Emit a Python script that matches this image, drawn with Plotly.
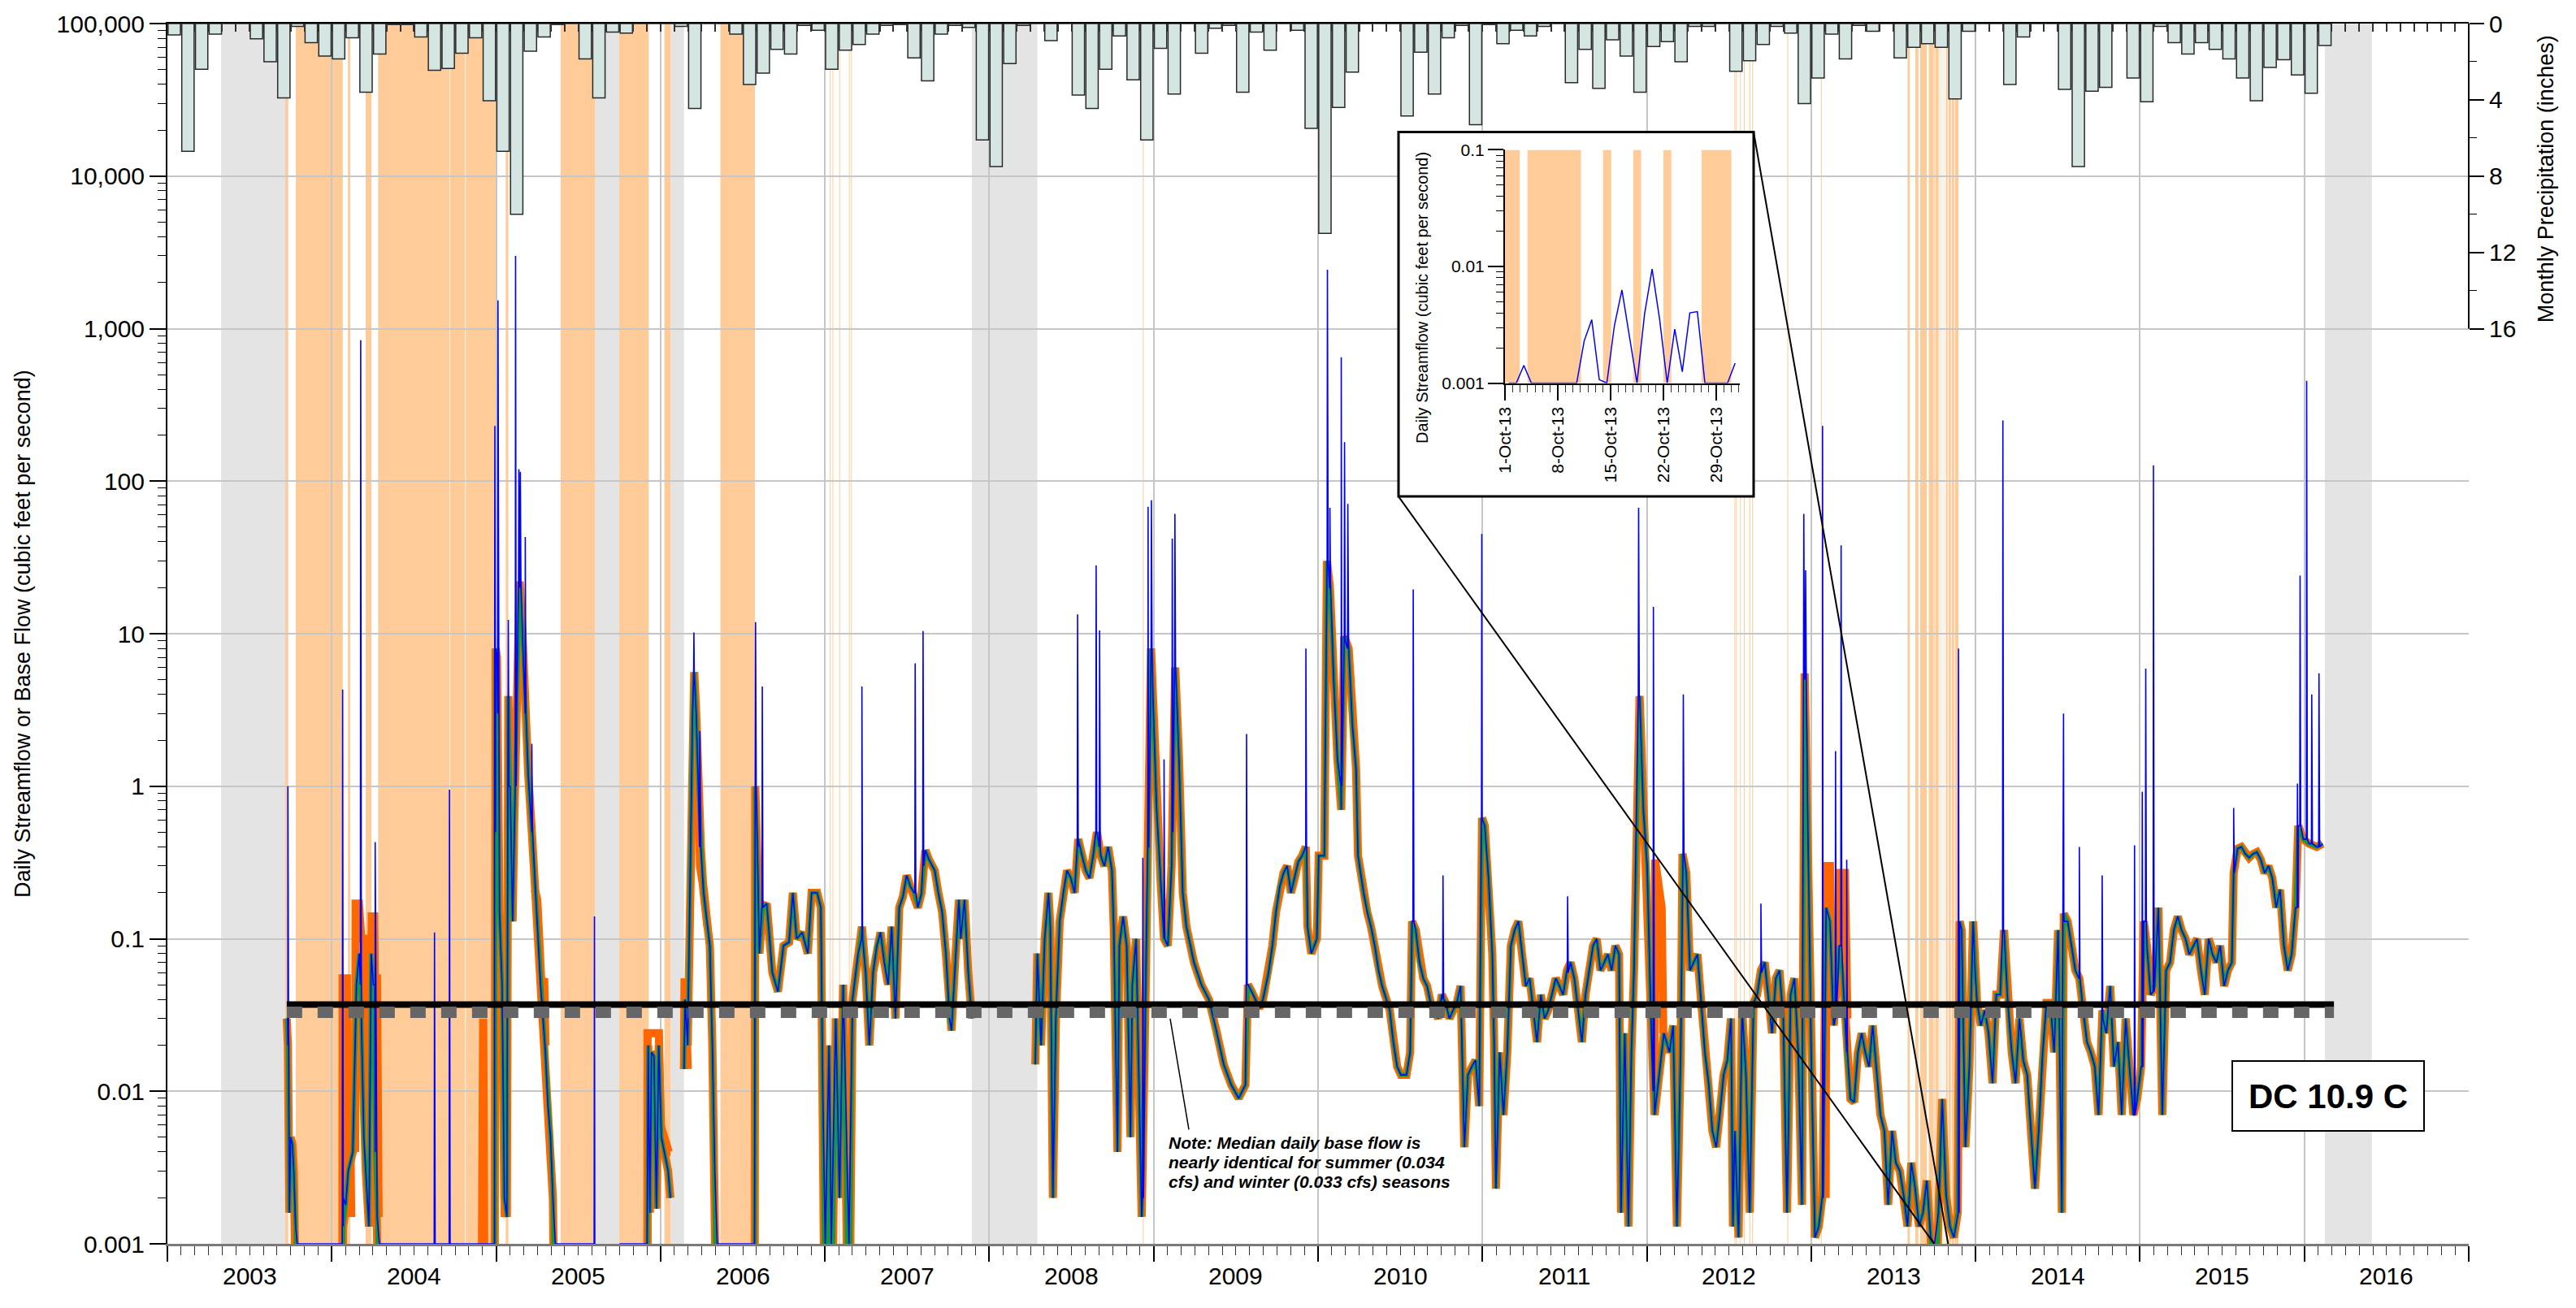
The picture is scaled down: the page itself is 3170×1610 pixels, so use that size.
import plotly.graph_objects as go

# ------------------------------------------------------------------ frame
FIG_W, FIG_H = 3170, 1610
M_L, M_R, M_T, M_B = 206, 132, 24, 79
PLOT_W = FIG_W - M_L - M_R
PLOT_H = FIG_H - M_T - M_B
T0, T1 = 2003, 2017
FONT = "Liberation Sans, Arial, sans-serif"


def paper_x(px):
    return (px - M_L) / PLOT_W


def paper_y(py):
    return 1 - (py - M_T) / PLOT_H


def year_to_paper(t):
    return (t - T0) / (T1 - T0)


# ------------------------------------------------------------------ data
years = list(range(2003, 2017))
year_labels = [str(y) for y in years]

flow_ticks = [0.001, 0.01, 0.1, 1, 10, 100, 1000, 10000, 100000]
flow_tick_text = ["0.001", "0.01", "0.1", "1", "10", "100", "1,000", "10,000", "100,000"]
precip_ticks = [0, 4, 8, 12, 16]

# Monthly precipitation (inches), January 2003 onward
precip_start_year = 2003
precip_in = [
    0.6, 6.7, 2.4, 0.55, 0, 0, 0.8, 2.0, 3.9, 0.15, 1.0, 1.7,
    1.85, 0.75, 3.6, 1.6, 0.05, 0.05, 0.7, 2.45, 2.35, 1.55, 0.75, 4.05,
    6.7, 10.0, 1.45, 0.7, 0.05, 0, 1.85, 3.9, 0.45, 0.5, 0, 0,
    0, 0.15, 4.45, 0, 0, 0.55, 3.2, 2.6, 1.35, 1.6, 0.1, 0.35,
    2.4, 1.4, 1.1, 0.55, 0.1, 0.05, 1.8, 3.0, 0.55, 0.1, 0.2, 6.1,
    7.5, 2.1, 0.1, 0, 0.9, 0, 3.75, 4.45, 2.4, 0.65, 2.95, 6.1,
    1.3, 3.7, 0, 1.55, 0.25, 0.1, 3.6, 0.45, 1.4, 0, 0.35, 5.5,
    11.0, 4.4, 2.55, 0, 0, 0, 4.85, 1.5, 3.7, 0.75, 0.1, 5.3,
    0.05, 1.05, 0.35, 0.65, 0.15, 0, 3.1, 1.35, 3.4, 0.85, 1.7, 3.6,
    1.2, 0.95, 2.0, 0.15, 0.15, 0, 2.5, 1.95, 1.1, 0.15, 0.5, 4.2,
    2.85, 0.55, 1.85, 0.1, 0.4, 0, 1.8, 1.25, 1.05, 1.25, 3.95, 0.4,
    0, 0, 3.2, 0.7, 0, 0, 3.45, 7.5, 3.55, 3.35, 0, 2.85,
    4.1, 0.15, 1.0, 1.6, 1.0, 1.35, 1.85, 2.85, 4.05, 2.3, 1.9, 2.7,
    3.65, 1.15,
]

# Daily base flow (decimal year, cfs); 0 = no flow
seg1_t = [2003.726, 2003.733, 2003.742, 2003.750, 2003.760, 2003.769, 2003.780, 2003.790,
          2004.064, 2004.070, 2004.085, 2004.100, 2004.128, 2004.150, 2004.167, 2004.180,
          2004.195, 2004.207, 2004.226, 2004.240, 2004.253, 2004.264, 2004.276, 2004.290,
          2004.990, 2004.997, 2005.005, 2005.020, 2005.036, 2005.050, 2005.065, 2005.074,
          2005.085, 2005.100, 2005.110, 2005.125, 2005.143, 2005.160, 2005.177, 2005.195,
          2005.217, 2005.240, 2005.255, 2005.270, 2005.285, 2005.300, 2005.315, 2005.331,
          2005.345, 2005.360, 2005.600]
seg1_q = [0.03, 0.02, 0.0016, 0.005, 0.0045, 0.003, 0.0013, 0,
          0, 0.0013, 0.0018, 0.003, 0.004, 0.05, 0.08, 0.03,
          0.005, 0.003, 0.0013, 0.08, 0.05, 0.004, 0.0015, 0,
          0, 8.0, 7.0, 0.15, 0.05, 0.002, 0.0015, 3.9,
          1.0, 0.13, 0.6, 3.0, 22.0, 10.0, 3.0, 1.2,
          0.5, 0.2, 0.1, 0.05, 0.03, 0.018, 0.008, 0.005,
          0.002, 0, 0]

seg2_t = [2005.750, 2005.918, 2005.925, 2005.935, 2005.945, 2005.960, 2005.975, 2005.989,
          2006.005, 2006.023, 2006.046, 2006.060]
seg2_q = [0, 0, 0.02, 0.0016, 0.018, 0.017, 0.0017, 0.02,
          0.005, 0.004, 0.003, 0.002]

seg3_t = [2006.143, 2006.150, 2006.165, 2006.182, 2006.195, 2006.205, 2006.217, 2006.230,
          2006.245, 2006.262, 2006.285, 2006.300, 2006.315, 2006.330, 2006.345, 2006.572,
          2006.576, 2006.590, 2006.601, 2006.623, 2006.646, 2006.680, 2006.714, 2006.748,
          2006.782, 2006.805, 2006.828, 2006.862, 2006.896, 2006.919, 2006.953, 2006.975,
          2006.987, 2007.002, 2007.025, 2007.039, 2007.066, 2007.089, 2007.111, 2007.146,
          2007.168, 2007.202, 2007.225, 2007.248, 2007.270, 2007.293, 2007.316, 2007.338,
          2007.361, 2007.384, 2007.406, 2007.429, 2007.452, 2007.475, 2007.497, 2007.520,
          2007.543, 2007.565, 2007.588, 2007.611, 2007.633, 2007.668, 2007.690, 2007.713,
          2007.736, 2007.758, 2007.770, 2007.792, 2007.815, 2007.826, 2007.849, 2007.872,
          2007.894]
seg3_q = [0.014, 0.04, 0.02, 0.5, 3.0, 5.6, 3.0, 1.0,
          0.4, 0.2, 0.12, 0.09, 0.02, 0.003, 0, 0,
          1.0, 0.3, 0.08, 0.16, 0.17, 0.06, 0.045, 0.09,
          0.095, 0.2, 0.1, 0.11, 0.08, 0.2, 0.2, 0.16,
          0.01, 0, 0.02, 0, 0.03, 0.002, 0.05, 0,
          0.04, 0.08, 0.12, 0.06, 0.02, 0.06, 0.09, 0.11,
          0.07, 0.05, 0.12, 0.03, 0.16, 0.19, 0.26, 0.22,
          0.2, 0.16, 0.2, 0.38, 0.33, 0.28, 0.2, 0.15,
          0.08, 0.03, 0.025, 0.07, 0.18, 0.1, 0.18, 0.06,
          0.03]

seg4_t = [2008.280, 2008.292, 2008.315, 2008.337, 2008.360, 2008.371, 2008.387, 2008.405,
          2008.428, 2008.450, 2008.473, 2008.496, 2008.519, 2008.541, 2008.564, 2008.587,
          2008.609, 2008.632, 2008.655, 2008.678, 2008.700, 2008.723, 2008.746, 2008.757,
          2008.780, 2008.791, 2008.814, 2008.836, 2008.859, 2008.870, 2008.893, 2008.905,
          2008.927, 2008.950, 2008.968, 2008.984, 2008.995, 2009.018, 2009.041, 2009.063,
          2009.086, 2009.109, 2009.131, 2009.154, 2009.177, 2009.199, 2009.245, 2009.290,
          2009.336, 2009.381, 2009.426, 2009.472, 2009.517, 2009.558, 2009.574, 2009.597,
          2009.619, 2009.642, 2009.665, 2009.699, 2009.722, 2009.744, 2009.767, 2009.790,
          2009.812, 2009.835, 2009.858, 2009.880, 2009.903, 2009.925, 2009.936, 2009.959,
          2009.993, 2010.004, 2010.038, 2010.054, 2010.072, 2010.095, 2010.118, 2010.141,
          2010.159, 2010.186, 2010.209, 2010.231, 2010.243, 2010.277, 2010.299, 2010.322,
          2010.345, 2010.368, 2010.390, 2010.436, 2010.458, 2010.481, 2010.504, 2010.538,
          2010.560, 2010.572, 2010.594, 2010.617, 2010.640, 2010.663, 2010.685, 2010.708,
          2010.731, 2010.753, 2010.776, 2010.799, 2010.821, 2010.844, 2010.867, 2010.890,
          2010.912, 2010.935, 2010.958, 2010.980, 2010.998, 2011.014, 2011.037, 2011.060,
          2011.071, 2011.082, 2011.105, 2011.128, 2011.151, 2011.173, 2011.196, 2011.219,
          2011.241, 2011.264, 2011.287, 2011.309, 2011.332, 2011.355, 2011.378, 2011.400,
          2011.423, 2011.446, 2011.468, 2011.491, 2011.514, 2011.536, 2011.559, 2011.582,
          2011.605, 2011.627, 2011.650, 2011.673, 2011.695, 2011.718, 2011.741, 2011.763,
          2011.786, 2011.809, 2011.831, 2011.843, 2011.866, 2011.888, 2011.906, 2011.922,
          2011.956, 2011.979, 2012.002, 2012.024, 2012.047, 2012.104, 2012.138, 2012.160,
          2012.183, 2012.206, 2012.217, 2012.240, 2012.263, 2012.285, 2012.308, 2012.331,
          2012.353, 2012.376, 2012.399, 2012.422, 2012.444, 2012.467, 2012.490, 2012.512,
          2012.524, 2012.535, 2012.558, 2012.580, 2012.603, 2012.626, 2012.649, 2012.671,
          2012.694, 2012.717, 2012.739, 2012.762, 2012.785, 2012.807, 2012.830, 2012.853,
          2012.875, 2012.898, 2012.921, 2012.944, 2012.960, 2012.978, 2013.000, 2013.023,
          2013.046, 2013.069, 2013.091, 2013.114, 2013.137, 2013.171, 2013.193, 2013.216,
          2013.239, 2013.261, 2013.284, 2013.307, 2013.329, 2013.352, 2013.374, 2013.398,
          2013.421, 2013.445, 2013.468, 2013.492, 2013.515, 2013.539, 2013.562, 2013.586,
          2013.609, 2013.633, 2013.656, 2013.680, 2013.703, 2013.727, 2013.750, 2013.774,
          2013.797, 2013.821, 2013.844, 2013.868, 2013.891, 2013.903, 2013.915, 2013.938,
          2013.962, 2013.985, 2013.997, 2014.009, 2014.032, 2014.056, 2014.079, 2014.103,
          2014.126, 2014.150, 2014.173, 2014.196, 2014.220, 2014.243, 2014.267, 2014.290,
          2014.314, 2014.337, 2014.361, 2014.384, 2014.408, 2014.431, 2014.455, 2014.478,
          2014.502, 2014.525, 2014.537, 2014.560, 2014.584, 2014.607, 2014.631, 2014.654,
          2014.678, 2014.701, 2014.725, 2014.748, 2014.772, 2014.795, 2014.819, 2014.842,
          2014.866, 2014.889, 2014.913, 2014.936, 2014.960, 2014.983, 2015.007, 2015.023,
          2015.042, 2015.065, 2015.089, 2015.112, 2015.136, 2015.159, 2015.183, 2015.206,
          2015.230, 2015.253, 2015.277, 2015.300, 2015.324, 2015.347, 2015.371, 2015.394,
          2015.418, 2015.441, 2015.465, 2015.488, 2015.512, 2015.535, 2015.559, 2015.570,
          2015.594, 2015.617, 2015.641, 2015.664, 2015.688, 2015.711, 2015.735, 2015.758,
          2015.782, 2015.805, 2015.829, 2015.852, 2015.876, 2015.899, 2015.923, 2015.946,
          2015.963, 2015.993, 2016.028, 2016.075, 2016.111]
seg4_q = [0.015, 0.08, 0.02, 0.1, 0.2, 0.12, 0.002, 0.03,
          0.13, 0.2, 0.28, 0.25, 0.2, 0.45, 0.35, 0.28,
          0.25, 0.35, 0.5, 0.35, 0.3, 0.4, 0.28, 0.12,
          0.004, 0.09, 0.14, 0.09, 0.005, 0.05, 0.1, 0.02,
          0.0015, 0.04, 0.4, 8.0, 4.0, 0.7, 0.25, 0.1,
          0.09, 0.3, 6.0, 1.5, 0.2, 0.12, 0.07, 0.05,
          0.04, 0.025, 0.015, 0.011, 0.009, 0.011, 0.05, 0.045,
          0.04, 0.035, 0.04, 0.06, 0.09, 0.15, 0.22, 0.27,
          0.3, 0.2, 0.25, 0.32, 0.35, 0.4, 0.12, 0.08,
          0.1, 0.35, 0.35, 30, 20, 5, 1.5, 0.7,
          9.6, 8, 2.5, 1.3, 0.35, 0.2, 0.15, 0.12,
          0.09, 0.062, 0.049, 0.034, 0.021, 0.0145, 0.0128, 0.0128,
          0.018, 0.13, 0.114, 0.07, 0.055, 0.049, 0.038, 0.034,
          0.03, 0.043, 0.038, 0.03, 0.034, 0.038, 0.049, 0.0043,
          0.0128, 0.0145, 0.016, 0.008, 0.62, 0.55, 0.25, 0.079,
          0.021, 0.0023, 0.018, 0.007, 0.018, 0.09, 0.114, 0.13,
          0.079, 0.049, 0.055, 0.034, 0.021, 0.043, 0.03, 0.034,
          0.043, 0.055, 0.049, 0.043, 0.062, 0.07, 0.055, 0.034,
          0.021, 0.043, 0.062, 0.09, 0.1, 0.062, 0.07, 0.079,
          0.062, 0.09, 0.079, 0.0016, 0.024, 0.0013, 0.018, 0.062,
          3.9, 0.7, 0.3, 0.034, 0.007, 0.024, 0.018, 0.027,
          0.0013, 0.018, 0.36, 0.27, 0.062, 0.07, 0.079, 0.038,
          0.018, 0.0113, 0.0055, 0.0043, 0.007, 0.0128, 0.016, 0.03,
          0.0013, 0.0055, 0.0011, 0.034, 0.0128, 0.0016, 0.038, 0.043,
          0.062, 0.07, 0.043, 0.024, 0.055, 0.062, 0.03, 0.0016,
          0.043, 0.055, 0.018, 0.0018, 5.5, 0.7, 0.018, 0.0011,
          0.0013, 0.0021, 0.16, 0.13, 0.027, 0.09, 0.055, 0.018,
          0.0089, 0.0085, 0.018, 0.024, 0.018, 0.0145, 0.027, 0.0128,
          0.007, 0.0055, 0.0018, 0.0055, 0.0034, 0.003, 0.0021, 0.0013,
          0.0034, 0.0023, 0.0013, 0.0016, 0.0026, 0.0011, 0, 0.0016,
          0.0089, 0.0021, 0.0013, 0.0011, 0.0016, 0.13, 0.114, 0.0043,
          0.0145, 0.13, 0.062, 0.038, 0.027, 0.034, 0.024, 0.0113,
          0.043, 0.043, 0.114, 0.038, 0.018, 0.0113, 0.03, 0.016,
          0.0128, 0.0055, 0.0023, 0.0055, 0.018, 0.038, 0.038, 0.018,
          0.114, 0.0016, 0.146, 0.13, 0.09, 0.062, 0.055, 0.034,
          0.021, 0.018, 0.0145, 0.007, 0.034, 0.024, 0.049, 0.0145,
          0.021, 0.007, 0.03, 0.0145, 0.007, 0.0089, 0.0145, 0.13,
          0.09, 0.043, 0.049, 0.16, 0.007, 0.062, 0.07, 0.114,
          0.14, 0.114, 0.1, 0.079, 0.09, 0.1, 0.062, 0.043,
          0.1, 0.079, 0.07, 0.09, 0.049, 0.062, 0.07, 0.27,
          0.39, 0.4, 0.36, 0.34, 0.36, 0.37, 0.33, 0.27,
          0.3, 0.25, 0.16, 0.21, 0.09, 0.062, 0.079, 0.16,
          0.55, 0.45, 0.42, 0.4, 0.42]

# Alternate base-flow separation where it departs from the main curve
alt_base_segments = [
    ([2004.064, 2004.066, 2004.092, 2004.095, 2004.103, 2004.112, 2004.118],
     [0, 0.055, 0.055, 0.002, 0.011, 0.007, 0.0015]),
    ([2004.142, 2004.145, 2004.165, 2004.180, 2004.200, 2004.210],
     [0.004, 0.17, 0.17, 0.1, 0.1, 0.003]),
    ([2004.238, 2004.243, 2004.258, 2004.262, 2004.275, 2004.285],
     [0.004, 0.14, 0.14, 0.055, 0.055, 0.0015]),
    ([2004.909, 2004.913, 2004.917, 2004.921, 2004.925, 2004.930],
     [0, 0.03, 0.005, 0.03, 0.005, 0]),
    ([2005.018, 2005.022, 2005.045, 2005.052], [0.15, 0.09, 0.08, 0.0015]),
    ([2005.235, 2005.250, 2005.262, 2005.275, 2005.292, 2005.300],
     [0.21, 0.18, 0.1, 0.05, 0.055, 0.02]),
    ([2005.919, 2005.921, 2005.990, 2006.000, 2006.050, 2006.060],
     [0, 0.024, 0.024, 0.006, 0.004, 0.004]),
    ([2006.143, 2006.146, 2006.155, 2006.165], [0.014, 0.055, 0.04, 0.014]),
    ([2006.230, 2006.240, 2006.265, 2006.285], [1.0, 0.3, 0.2, 0.12]),
    ([2012.045, 2012.050, 2012.090, 2012.100], [0.01, 0.33, 0.16, 0.024]),
    ([2013.088, 2013.091, 2013.114, 2013.130], [0.002, 0.3, 0.3, 0.03]),
    ([2013.168, 2013.171, 2013.205, 2013.220], [0.09, 0.27, 0.27, 0.03]),
]

# Storm peaks in daily streamflow: date, peak (cfs), flow either side (cfs)
peak_t = [2003.733, 2004.066, 2004.176, 2004.264, 2004.625, 2004.716, 2004.992, 2005.011,
          2005.074, 2005.118, 2005.138, 2005.147, 2005.177, 2005.217, 2005.598, 2006.203,
          2006.239, 2006.578, 2006.619, 2007.225, 2007.549, 2007.597, 2008.537, 2008.650,
          2008.671, 2008.934, 2008.966, 2008.986, 2009.063, 2009.113, 2009.129, 2009.565,
          2009.926, 2010.057, 2010.072, 2010.141, 2010.161, 2010.181, 2010.579, 2010.760,
          2010.996, 2011.518, 2011.950, 2012.040, 2012.222, 2012.694, 2012.955, 2012.966,
          2013.069, 2013.148, 2013.182, 2013.216, 2013.896, 2014.166, 2014.535, 2014.631,
          2014.770, 2014.967, 2015.014, 2015.035, 2015.082, 2015.570, 2015.958, 2015.974,
          2016.014, 2016.045, 2016.089]
peak_q = [1.0, 4.3, 840, 0.43, 0.11, 0.95, 230, 1530,
          12.3, 3000, 120, 115, 43, 1.9, 0.14, 10.2,
          2.3, 11.9, 4.5, 4.5, 6.4, 10.4, 13.4, 28,
          10.5, 0.34, 68, 75, 1.5, 42, 61, 2.2,
          8, 2430, 67, 650, 180, 71, 19.5, 0.26,
          45, 0.19, 67, 15, 4.0, 0.17, 61, 26,
          230, 1.7, 38, 0.33, 8, 250, 3.0, 0.4,
          0.26, 0.41, 0.92, 5.9, 127, 0.72, 1.04, 24,
          455, 4.0, 5.5]
peak_side = [0.03, 0.002, 0.05, 0.05, 0, 0, 0.5, 3.0,
             1.0, 1.0, 20, 20, 3, 0.5, 0, 5,
             0.4, 1.0, 0.16, 0.1, 0.2, 0.3, 0.4, 0.5,
             0.4, 0.002, 0.4, 8, 0.1, 0.5, 6, 0.05,
             0.4, 30, 20, 1, 9, 8, 0.13, 0.04,
             0.6, 0.06, 3.9, 0.01, 0.36, 0.06, 5, 5,
             0.002, 0.03, 0.09, 0.018, 0.0016, 0.11, 0.13, 0.055,
             0.03, 0.007, 0.0145, 0.13, 0.045, 0.27, 0.16, 0.55,
             0.45, 0.42, 0.4]

median_base_all = 0.037       # cfs
median_base_seasonal = 0.033  # cfs
median_span = (2003.726, 2016.18)

no_record_periods = [(2003.327, 2003.720), (2005.603, 2005.748), (2006.062, 2006.143),
                     (2007.894, 2008.292), (2016.125, 2016.411)]
zero_flow_periods = [
    (2003.717, 2003.735), (2003.781, 2004.067), (2004.098, 2004.112), (2004.206, 2004.241),
    (2004.282, 2004.716), (2004.720, 2004.811), (2004.815, 2004.997), (2005.058, 2005.074),
    (2005.392, 2005.603), (2005.748, 2005.928), (2006.023, 2006.062), (2006.364, 2006.574),
    (2007.030, 2007.035), (2007.046, 2007.051), (2007.087, 2007.092), (2007.146, 2007.151),
    (2007.159, 2007.164), (2008.934, 2008.939),
    (2012.533, 2012.538), (2012.543, 2012.548), (2012.567, 2012.572), (2012.590, 2012.595),
    (2012.624, 2012.629), (2012.641, 2012.646), (2012.855, 2012.860), (2013.059, 2013.064),
    (2013.586, 2013.600), (2013.633, 2013.652), (2013.663, 2013.703), (2013.715, 2013.745),
    (2013.748, 2013.7534), (2013.7562, 2013.7757), (2013.7836, 2013.7866),
    (2013.7945, 2013.7974), (2013.8054, 2013.8084), (2013.8194, 2013.8302),
    (2013.836, 2013.850), (2013.855, 2013.870), (2013.875, 2013.896),
]

# October 2013 detail
inset_day = list(range(1, 32))
inset_q = [0.001, 0.001, 0.00142, 0.001, 0.001, 0.001, 0.001, 0.001, 0.001, 0.001,
           0.0023, 0.0035, 0.00107, 0.001, 0.0031, 0.0063, 0.0025, 0.001, 0.0039, 0.0095,
           0.0035, 0.001, 0.0029, 0.00125, 0.0040, 0.0041, 0.001, 0.001, 0.001, 0.001,
           0.00148]
inset_zero_flow = [("2013-10-01 00:00", "2013-10-02 23:00"),
                   ("2013-10-03 23:30", "2013-10-11 02:00"),
                   ("2013-10-14 00:00", "2013-10-15 02:00"),
                   ("2013-10-18 00:00", "2013-10-19 01:00"),
                   ("2013-10-22 00:00", "2013-10-23 01:00"),
                   ("2013-10-27 01:30", "2013-10-31 00:00")]
inset_tick_days = [1, 8, 15, 22, 29]
inset_range = ("2013-10-01 00:00", "2013-11-01 03:00")
inset_span_years = (2013.748, 2013.833)

note_lines = ["Note: Median daily base flow is",
              "nearly identical for summer (0.034",
              "cfs) and winter (0.033 cfs) seasons"]

# ------------------------------------------------------------------ colours
BLUE = "#0000ff"
GREEN = "#109a3c"
ORANGE = "#ff6600"
PEACH = "#ffcc99"
NODATA = "#e4e4e4"
GRID = "#c6c6c6"
BAR_FILL = "#d5e6e2"

FLOOR = 0.001   # zero streamflow sits on the axis floor
BELOW = 1e-4    # zero base flow falls off the bottom of the axis

segments = [(seg1_t, seg1_q), (seg2_t, seg2_q), (seg3_t, seg3_q), (seg4_t, seg4_q)]


def base_curve():
    xs, ys = [], []
    for t, q in segments:
        xs += list(t) + [None]
        ys += [v if v > 0 else BELOW for v in q] + [None]
    return xs, ys


def streamflow_curve():
    xs, ys = [], []
    for t, q in segments:
        pts = [(a, v if v > 0 else FLOOR) for a, v in zip(t, q)]
        for pt, pq, ps in zip(peak_t, peak_q, peak_side):
            if t[0] <= pt <= t[-1]:
                s = ps if ps > 0 else FLOOR
                pts += [(pt - 0.002, s), (pt, pq), (pt + 0.004, s)]
        pts.sort()
        xs += [p[0] for p in pts] + [None]
        ys += [p[1] for p in pts] + [None]
    return xs, ys


def alt_curve():
    xs, ys = [], []
    for t, q in alt_base_segments:
        xs += list(t) + [None]
        ys += [v if v > 0 else BELOW for v in q] + [None]
    return xs, ys


fig = go.Figure()

# precipitation bars hanging from the top axis
precip_x = [precip_start_year + (i + 0.5) / 12 for i in range(len(precip_in))]
fig.add_trace(go.Bar(
    x=precip_x, y=precip_in, base=0, width=0.9 / 12,
    marker=dict(color=BAR_FILL, line=dict(color="#2a2a2a", width=1.5)),
    xaxis="x2", yaxis="y2", hoverinfo="skip"))

bx, by = base_curve()
ax_, ay_ = alt_curve()
sx, sy = streamflow_curve()

fig.add_trace(go.Scatter(x=ax_, y=ay_, mode="lines", line=dict(color=ORANGE, width=10),
                         hoverinfo="skip"))
fig.add_trace(go.Scatter(x=bx, y=by, mode="lines", line=dict(color=ORANGE, width=10),
                         hoverinfo="skip"))
fig.add_trace(go.Scatter(x=bx, y=by, mode="lines", line=dict(color=GREEN, width=5),
                         hoverinfo="skip"))
fig.add_trace(go.Scatter(x=sx, y=sy, mode="lines", line=dict(color=BLUE, width=1.6),
                         hoverinfo="skip"))

# median base-flow lines
fig.add_trace(go.Scatter(x=list(median_span), y=[median_base_all] * 2, mode="lines",
                         line=dict(color="black", width=8), hoverinfo="skip"))
fig.add_trace(go.Scatter(x=list(median_span), y=[median_base_seasonal] * 2, mode="lines",
                         line=dict(color="#666666", width=14, dash="19px,19px"),
                         hoverinfo="skip"))

# white backing card for the October 2013 detail
fig.add_trace(go.Scatter(x=[0, 1, 1, 0, 0], y=[0, 0, 1, 1, 0], mode="lines", fill="toself",
                         fillcolor="white", line=dict(width=0), xaxis="x3", yaxis="y3",
                         hoverinfo="skip"))

# October 2013 detail: zero-flow days and daily streamflow
zx, zy = [], []
for a, b in inset_zero_flow:
    zx += [a, b, b, a, a, None]
    zy += [0.001, 0.001, 0.1, 0.1, 0.001, None]
fig.add_trace(go.Scatter(x=zx, y=zy, mode="lines", fill="toself", fillcolor=PEACH,
                         line=dict(width=0), xaxis="x4", yaxis="y4", hoverinfo="skip"))
inset_t = [f"2013-10-{d:02d} 12:00" for d in inset_day]
fig.add_trace(go.Scatter(x=inset_t, y=inset_q, mode="lines", line=dict(color=BLUE, width=1.5),
                         xaxis="x4", yaxis="y4", hoverinfo="skip"))

# ------------------------------------------------------------------ shapes
shapes = []
for a, b in no_record_periods:
    shapes.append(dict(type="rect", xref="x", yref="paper", x0=a, x1=b, y0=0, y1=1,
                       fillcolor=NODATA, line=dict(width=0), layer="below"))
for a, b in zero_flow_periods:
    shapes.append(dict(type="rect", xref="x", yref="paper", x0=a, x1=b, y0=0, y1=1,
                       fillcolor=PEACH, line=dict(width=0), layer="below"))

box = dict(x0=paper_x(1721), x1=paper_x(2158), y0=paper_y(608), y1=paper_y(158))
shapes.append(dict(type="rect", xref="paper", yref="paper", **box,
                   line=dict(color="black", width=3), fillcolor="rgba(0,0,0,0)", layer="above"))
shapes.append(dict(type="line", xref="paper", yref="paper", x0=box["x0"], y0=box["y0"],
                   x1=year_to_paper(inset_span_years[0]), y1=0,
                   line=dict(color="black", width=2), layer="above"))
shapes.append(dict(type="line", xref="paper", yref="paper", x0=box["x1"], y0=box["y1"],
                   x1=year_to_paper(inset_span_years[1]), y1=0,
                   line=dict(color="black", width=2), layer="above"))
# right axis spine covers the 0-16 inch span only
shapes.append(dict(type="line", xref="paper", yref="paper", x0=1, x1=1, y0=0.75, y1=1,
                   line=dict(color="black", width=2), layer="above"))
# note leader
shapes.append(dict(type="line", xref="paper", yref="paper", x0=paper_x(1440), y0=paper_y(1253),
                   x1=paper_x(1463), y1=paper_y(1390), line=dict(color="black", width=1.5),
                   layer="above"))

# ------------------------------------------------------------------ annotations
annotations = []
for y, lab in zip(years, year_labels):
    annotations.append(dict(x=y + 0.5, y=0, xref="x", yref="paper", text=lab, showarrow=False,
                            xanchor="center", yanchor="top", yshift=-21,
                            font=dict(size=30, color="black")))
annotations.append(dict(x=paper_x(28), y=0.5, xref="paper", yref="paper", textangle=-90,
                        xanchor="center", yanchor="middle",
                        text="Daily Streamflow or Base Flow (cubic feet per second)",
                        showarrow=False, font=dict(size=27, color="black")))
annotations.append(dict(x=paper_x(3133), y=paper_y(216), xref="paper", yref="paper",
                        textangle=-90, xanchor="center", yanchor="middle",
                        text="Monthly Precipitation (inches)",
                        showarrow=False, font=dict(size=27, color="black")))
annotations.append(dict(x=paper_x(1750), y=paper_y(363), xref="paper", yref="paper",
                        textangle=-90, xanchor="center", yanchor="middle",
                        text="Daily Streamflow (cubic feet per second)",
                        showarrow=False, font=dict(size=20, color="black")))
for i, line in enumerate(note_lines):
    annotations.append(dict(x=paper_x(1436), y=paper_y(1406 + 24 * i), xref="paper",
                            yref="paper", xanchor="left", yanchor="middle", showarrow=False,
                            text=f"<b><i>{line}</i></b>", font=dict(size=21, color="black")))
annotations.append(dict(x=paper_x(2864.5), y=paper_y(1348), xref="paper", yref="paper",
                        xanchor="center", yanchor="middle",
                        text="<b>DC 10.9 C</b>", showarrow=False, width=230, height=80,
                        bgcolor="white", bordercolor="black", borderwidth=2, borderpad=2,
                        font=dict(size=42, color="black")))

# ------------------------------------------------------------------ axes
month_ticks = [y + m / 12 for y in range(T0, T1) for m in range(12)] + [T1]
minor_log = [k * 10.0 ** e for e in range(-3, 5) for k in range(2, 10)]
inset_minor_log = [k * 10.0 ** e for e in (-3, -2) for k in range(2, 10)]

fig.update_layout(
    width=FIG_W, height=FIG_H,
    margin=dict(l=M_L, r=M_R, t=M_T, b=M_B),
    paper_bgcolor="white", plot_bgcolor="white",
    showlegend=False, barmode="overlay",
    font=dict(family=FONT, color="black"),
    shapes=shapes, annotations=annotations,
    xaxis=dict(range=[T0, T1], tickmode="array", tickvals=list(range(T0, T1 + 1)),
               showticklabels=False, ticks="outside", ticklen=19, tickwidth=1.5,
               tickcolor="black", showgrid=True, gridcolor=GRID, gridwidth=1.5,
               showline=True, linecolor="#7a7a7a", linewidth=2.5, zeroline=False,
               minor=dict(tickmode="array", tickvals=month_ticks, ticks="outside",
                          ticklen=11, tickwidth=1.2, tickcolor="#333333", showgrid=False)),
    yaxis=dict(type="log", range=[-3, 5], tickmode="array", tickvals=flow_ticks,
               ticktext=flow_tick_text, ticks="outside", ticklen=20, tickwidth=1.5,
               tickcolor="black", tickfont=dict(size=30), showgrid=True, gridcolor=GRID,
               gridwidth=1.5, showline=True, linecolor="black", linewidth=2, zeroline=False,
               minor=dict(tickmode="array", tickvals=minor_log, ticks="outside", ticklen=10,
                          tickwidth=1.2, tickcolor="black", showgrid=False)),
    xaxis2=dict(overlaying="x", side="top", anchor="y2", range=[T0, T1], tickmode="array",
                tickvals=month_ticks, ticks="inside", ticklen=10, tickwidth=1.5,
                tickcolor="#333333", showticklabels=False, showgrid=False, showline=True,
                linecolor="black", linewidth=2, zeroline=False),
    yaxis2=dict(overlaying="y", side="right", anchor="x2", range=[64, 0], tickmode="array",
                tickvals=precip_ticks, ticks="outside", ticklen=18, tickwidth=1.5,
                tickcolor="black", tickfont=dict(size=30), showgrid=False, showline=False,
                zeroline=False,
                minor=dict(tickmode="array", tickvals=[2, 6, 10, 14], ticks="outside",
                           ticklen=9, tickwidth=1.2, tickcolor="black", showgrid=False)),
    xaxis3=dict(domain=[paper_x(1721), paper_x(2158)], range=[0, 1], anchor="y3",
                visible=False, fixedrange=True),
    yaxis3=dict(domain=[paper_y(608), paper_y(158)], range=[0, 1], anchor="x3",
                visible=False, fixedrange=True),
    xaxis4=dict(domain=[paper_x(1852), paper_x(2141)], type="date", anchor="y4",
                range=list(inset_range), tickmode="array",
                tickvals=[f"2013-10-{d:02d}" for d in inset_tick_days],
                ticktext=[f"{d}-Oct-13" for d in inset_tick_days], tickangle=-90,
                ticks="outside", ticklen=19, tickwidth=1.5, tickcolor="black",
                tickfont=dict(size=21), showgrid=False, showline=True, linecolor="black",
                linewidth=2, zeroline=False,
                minor=dict(tickmode="array",
                           tickvals=[f"2013-10-{d:02d}" for d in inset_day] + ["2013-11-01"],
                           ticks="outside", ticklen=9, tickwidth=1.2, tickcolor="#333333",
                           showgrid=False)),
    yaxis4=dict(domain=[paper_y(468), paper_y(180)], type="log", range=[-3, -1], anchor="x4",
                tickmode="array", tickvals=[0.001, 0.01, 0.1], ticktext=["0.001", "0.01", "0.1"],
                ticks="outside", ticklen=19, tickwidth=1.5, tickcolor="black",
                tickfont=dict(size=21), showgrid=False, showline=True, linecolor="black",
                linewidth=2, zeroline=False,
                minor=dict(tickmode="array", tickvals=inset_minor_log, ticks="outside",
                           ticklen=9, tickwidth=1.2, tickcolor="black", showgrid=False)),
)

fig.write_html("out.html")
